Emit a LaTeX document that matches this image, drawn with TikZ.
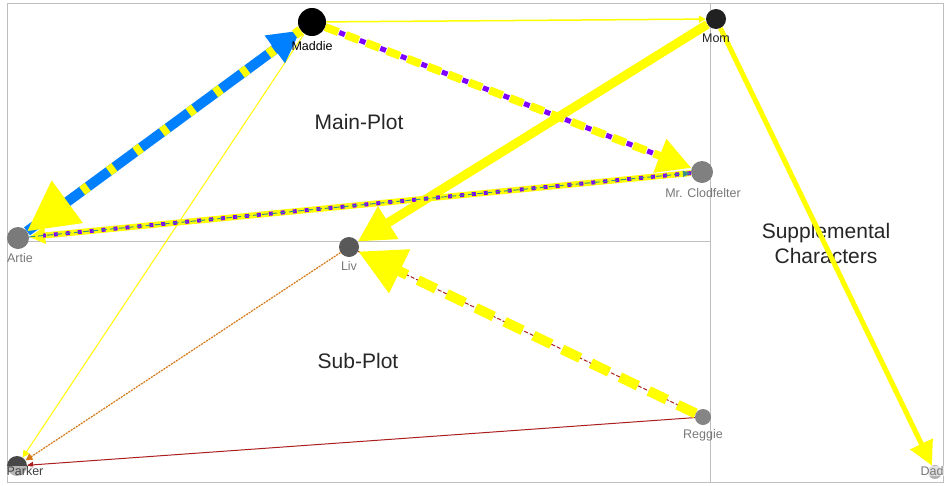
\documentclass[tikz,border=0pt]{standalone}
\usepackage{fontspec}
\setmainfont{Liberation Sans}
\usetikzlibrary{arrows.meta,positioning}

\definecolor{hiyellow}{RGB}{255,255,0}
\definecolor{linkblue}{RGB}{0,128,255}
\definecolor{linkpurple}{RGB}{128,0,255}
\definecolor{linkteal}{RGB}{60,140,140}
\definecolor{linkred}{RGB}{170,30,30}
\definecolor{linkorange}{RGB}{215,120,20}
\definecolor{framegray}{RGB}{190,190,190}
\definecolor{labelgray}{RGB}{120,120,120}

\begin{document}
\begin{tikzpicture}[x=1pt,y=-1pt,
  person/.style={circle,inner sep=0pt,minimum size=#1},
  who/.style={font=\fontsize{12.5}{14}\selectfont,text=labelgray,inner sep=0pt},
  veiled/.style={fill=white,fill opacity=0.6,text opacity=1,inner sep=0.5pt},
  region/.style={font=\fontsize{21}{25}\selectfont,text=black!85,align=center,inner sep=0pt},
  big/.style={-{Triangle[length=#1,width=#1]}}]
\useasboundingbox (0,0) rectangle (950,485);

\draw[framegray] (7,3) rectangle (943,482);
\draw[framegray] (710,3) -- (710,482);
\draw[framegray] (7,241.5) -- (710,241.5);

\path (359,122) node[region] (main) {Main-Plot};
\path (358,361) node[region] (sub) {Sub-Plot};
\path (826,243) node[region] (supp) {Supplemental\\Characters};

\path (312,22)  node[person=28pt,fill=black] (maddie) {};
\path (716,19)  node[person=20pt,fill=black!87] (mom) {};
\path (702,172) node[person=22pt,fill=black!50] (clod) {};
\path (18,238)  node[person=22pt,fill=black!52] (artie) {};
\path (349,247) node[person=20pt,fill=black!65] (liv) {};
\path (703,417) node[person=16pt,fill=black!48] (reggie) {};
\path (17,466)  node[person=20pt,fill=black!72] (parker) {};
\path (935,472) node[person=14pt,fill=black!30] (dad) {};

\draw[hiyellow,line width=1.5pt,big=7pt] (maddie) -- (mom);
\draw[hiyellow,line width=1pt,big=7pt] (maddie) -- (parker);
\draw[linkorange,line width=1.2pt,dash pattern=on 2pt off 1pt,big=7pt] (liv) -- (parker);
\draw[linkred,line width=1pt,big=6pt] (reggie) -- (parker);

\draw[hiyellow,line width=9pt,big=36pt] (mom) -- (liv);
\draw[hiyellow,line width=5pt,big=24pt] (mom) -- (dad);

\draw[linkred,line width=1pt,dash pattern=on 4pt off 2pt] (reggie) -- (liv);
\draw[hiyellow,line width=10pt,dash pattern=on 20pt off 12pt,big=46pt] (reggie) -- (liv);

\draw[hiyellow,line width=6pt,-{Triangle[length=16pt,width=16pt]}] (clod) -- (artie);
\draw[linkpurple,line width=4pt,dash pattern=on 4pt off 8pt,shorten >=14pt] (clod) -- (artie);
\draw[linkteal,line width=1pt,dash pattern=on 6pt off 3pt,-{Triangle[length=8pt,width=6pt]}] (artie) -- (clod);

\draw[linkpurple,line width=5pt,dash pattern=on 6pt off 16pt,dash phase=7pt,shorten >=30pt] (maddie) -- (clod);
\draw[hiyellow,line width=8pt,dash pattern=on 14pt off 8pt,big=34pt] (maddie) -- (clod);

\draw[linkblue,line width=10pt,big=32pt] (artie) -- (maddie);
\draw[hiyellow,line width=10pt,dash pattern=on 7pt off 26pt,big=50pt] (maddie) -- (artie);

\path (312,46)  node[who,text=black] (maddie-l) {Maddie};
\path (716,38)  node[who,text=black!87] (mom-l) {Mom};
\path (703,193) node[who] (clod-l) {Mr. Clodfelter};
\path (20,258)  node[who] (artie-l) {Artie};
\path (349,266) node[who] (liv-l) {Liv};
\path (703,435) node[who] (reggie-l) {Reggie};
\path (25,471)  node[who,veiled,text=black!75] (parker-l) {Parker};
\path (932,471) node[who,veiled] (dad-l) {Dad};
\end{tikzpicture}
\end{document}
